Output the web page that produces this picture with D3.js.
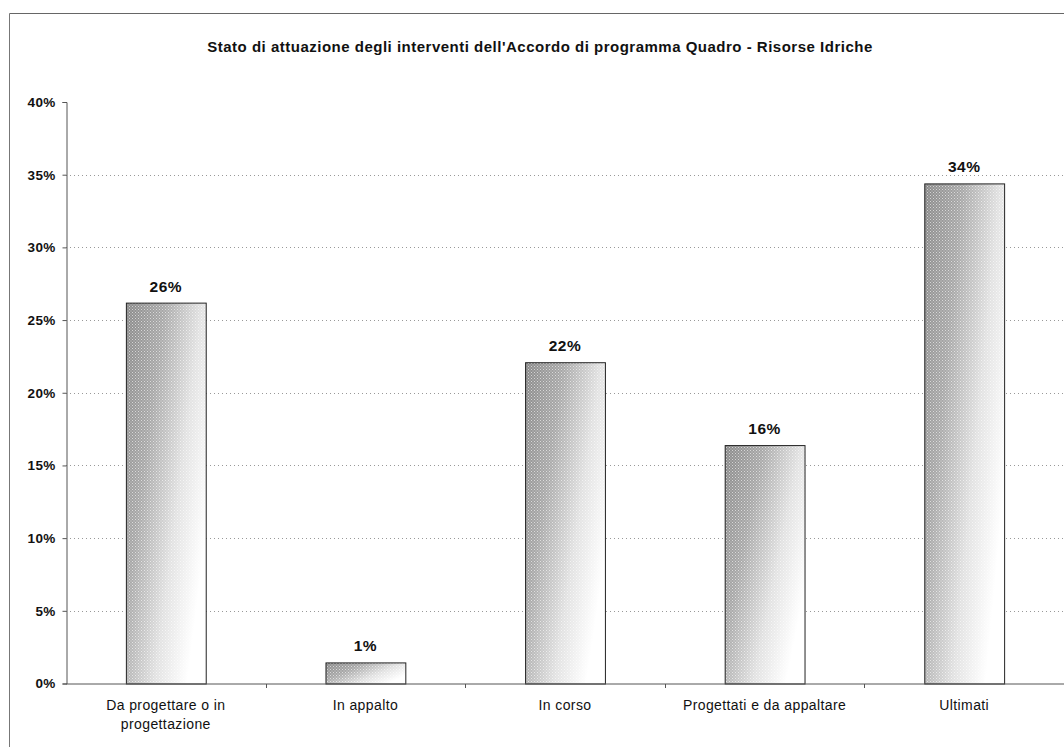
<!DOCTYPE html>
<html>
<head>
<meta charset="utf-8">
<script src="https://cdn.jsdelivr.net/npm/d3@7"></script>
<style>
  html, body { margin: 0; padding: 0; background: #fff; }
  svg { display: block; font-family: "Liberation Sans", Arial, sans-serif; }
</style>
</head>
<body>
<svg id="chart" width="1064" height="747"></svg>
<script>
// Chart data
const title = "Stato di attuazione degli interventi dell'Accordo di programma Quadro - Risorse Idriche";
const categories = [
  ["Da progettare o in", "progettazione"],
  ["In appalto"],
  ["In corso"],
  ["Progettati e da appaltare"],
  ["Ultimati"]
];
const values = [0.262, 0.0145, 0.221, 0.164, 0.344];
const yTicks = [0, 0.05, 0.10, 0.15, 0.20, 0.25, 0.30, 0.35, 0.40];

const svg = d3.select("#chart");
const W = 1064, H = 747;
const plot = { left: 66, right: 1064, top: 102, bottom: 683.5 };

// Frame of the chart area
svg.append("line").attr("x1", 9.5).attr("x2", W).attr("y1", 13.5).attr("y2", 13.5)
  .attr("stroke", "#666").attr("stroke-width", 1);
svg.append("line").attr("x1", 9.5).attr("x2", 9.5).attr("y1", 13.5).attr("y2", H)
  .attr("stroke", "#777").attr("stroke-width", 1);

// Title
svg.append("text")
  .attr("x", 540).attr("y", 52)
  .attr("text-anchor", "middle")
  .attr("font-size", 15).attr("font-weight", "bold")
  .attr("letter-spacing", 0.5)
  .attr("fill", "#111")
  .text(title);

// Scales
const x = d3.scaleBand()
  .domain(d3.range(categories.length))
  .range([plot.left, plot.right])
  .paddingInner(0.6).paddingOuter(0.3);
const xOuter = d3.scaleBand()
  .domain(d3.range(categories.length))
  .range([plot.left, plot.right]);
const y = d3.scaleLinear().domain([0, 0.40]).range([plot.bottom, plot.top]);

// Bar fill: diagonal grey-to-white shading with a fine grain
const defs = svg.append("defs");
const grad = defs.append("linearGradient")
  .attr("id", "barShade")
  .attr("x1", "0").attr("y1", "0").attr("x2", "1").attr("y2", "0.6");
grad.append("stop").attr("offset", "0%").attr("stop-color", "#8a8a8a");
grad.append("stop").attr("offset", "35%").attr("stop-color", "#a8a8a8");
grad.append("stop").attr("offset", "70%").attr("stop-color", "#e2e2e2");
grad.append("stop").attr("offset", "100%").attr("stop-color", "#ffffff");

const grain = defs.append("pattern")
  .attr("id", "grain").attr("patternUnits", "userSpaceOnUse")
  .attr("width", 3).attr("height", 3);
grain.append("rect").attr("x", 0).attr("y", 0).attr("width", 1).attr("height", 1)
  .attr("fill", "#fff").attr("opacity", 0.6);
grain.append("rect").attr("x", 1.5).attr("y", 1.5).attr("width", 1).attr("height", 1)
  .attr("fill", "#fff").attr("opacity", 0.5);

// Gridlines (dotted)
svg.append("g")
  .selectAll("line")
  .data(yTicks.filter(t => t > 0 && t < 0.40))
  .join("line")
  .attr("x1", plot.left).attr("x2", plot.right)
  .attr("y1", d => Math.round(y(d)) + 0.5).attr("y2", d => Math.round(y(d)) + 0.5)
  .attr("stroke", "#999").attr("stroke-width", 1)
  .attr("stroke-dasharray", "1,3");

// Bars
const bars = svg.append("g");
bars.selectAll("rect.bar")
  .data(values)
  .join("rect")
  .attr("class", "bar")
  .attr("x", (d, i) => x(i) + 0.5)
  .attr("y", d => y(d) + 0.5)
  .attr("width", x.bandwidth())
  .attr("height", d => plot.bottom - y(d))
  .attr("fill", "url(#barShade)");
bars.selectAll("rect.grain")
  .data(values)
  .join("rect")
  .attr("class", "grain")
  .attr("x", (d, i) => x(i) + 0.5)
  .attr("y", d => y(d) + 0.5)
  .attr("width", x.bandwidth())
  .attr("height", d => plot.bottom - y(d))
  .attr("fill", "url(#grain)")
  .attr("stroke", "#222").attr("stroke-width", 1);

// Value labels
const fmt = d3.format(".0%");
svg.append("g")
  .selectAll("text")
  .data(values)
  .join("text")
  .attr("x", (d, i) => x(i) + x.bandwidth() / 2)
  .attr("y", d => y(d) - 11)
  .attr("text-anchor", "middle")
  .attr("font-size", 15.5).attr("font-weight", "bold")
  .attr("letter-spacing", 0.5)
  .attr("fill", "#111")
  .text(d => fmt(d));

// Y axis
const yAxis = svg.append("g")
  .attr("transform", `translate(${plot.left + 0.5},0)`)
  .call(d3.axisLeft(y).tickValues(yTicks).tickFormat(d3.format(".0%")).tickSize(4).tickPadding(7));
yAxis.select(".domain").attr("stroke", "#555");
yAxis.selectAll(".tick line").attr("stroke", "#555");
yAxis.selectAll(".tick text")
  .attr("font-size", 13.5).attr("font-weight", "bold").attr("fill", "#111")
  .attr("letter-spacing", 0.3)
  .attr("font-family", "'Liberation Sans', Arial, sans-serif");

// X axis with ticks at category boundaries
const xAxisG = svg.append("g").attr("transform", `translate(0,${plot.bottom + 0.5})`);
xAxisG.append("line")
  .attr("x1", plot.left).attr("x2", plot.right)
  .attr("stroke", "#555");
xAxisG.selectAll("line.tick")
  .data(d3.range(1, categories.length + 1))
  .join("line")
  .attr("class", "tick")
  .attr("x1", i => Math.round(xOuter(i - 1) + xOuter.bandwidth()) + 0.5)
  .attr("x2", i => Math.round(xOuter(i - 1) + xOuter.bandwidth()) + 0.5)
  .attr("y1", 0).attr("y2", 4)
  .attr("stroke", "#555");

// Category labels
const catLabels = svg.append("g")
  .selectAll("text")
  .data(categories)
  .join("text")
  .attr("x", (d, i) => xOuter(i) + xOuter.bandwidth() / 2)
  .attr("y", 710)
  .attr("text-anchor", "middle")
  .attr("font-size", 14).attr("letter-spacing", 0.4).attr("fill", "#111");
catLabels.selectAll("tspan")
  .data(d => d)
  .join("tspan")
  .attr("x", function () { return d3.select(this.parentNode).attr("x"); })
  .attr("dy", (d, j) => j === 0 ? 0 : 19)
  .text(d => d);
</script>
</body>
</html>
